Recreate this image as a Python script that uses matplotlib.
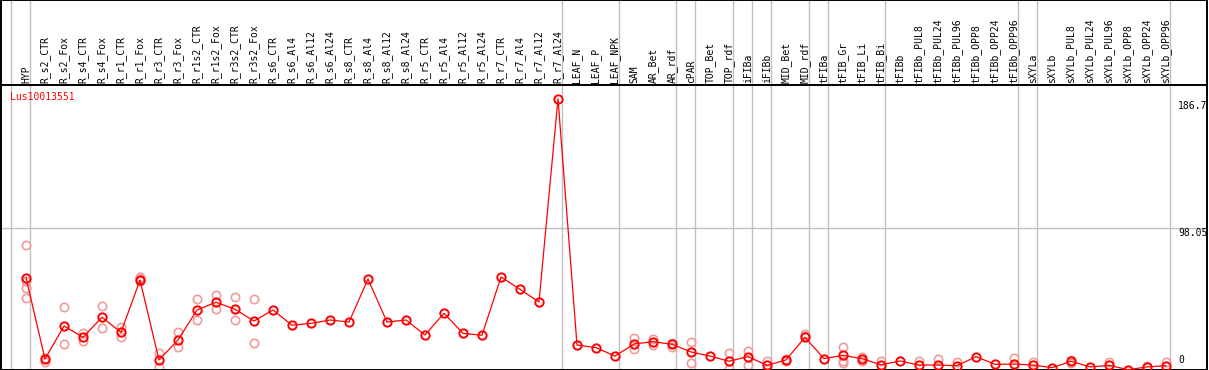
import numpy as np
import matplotlib.pyplot as plt

# sample names (header labels)
samples = ["HYP", "R_s2_CTR", "R_s2_Fox", "R_s4_CTR", "R_s4_Fox", "R_r1_CTR",
           "R_r1_Fox", "R_r3_CTR", "R_r3_Fox", "R_r1s2_CTR", "R_r1s2_Fox",
           "R_r3s2_CTR", "R_r3s2_Fox", "R_s6_CTR", "R_s6_Al4", "R_s6_Al12",
           "R_s6_Al24", "R_s8_CTR", "R_s8_Al4", "R_s8_Al12", "R_s8_Al24",
           "R_r5_CTR", "R_r5_Al4", "R_r5_Al12", "R_r5_Al24", "R_r7_CTR",
           "R_r7_Al4", "R_r7_Al12", "R_r7_Al24", "LEAF_N", "LEAF_P", "LEAF_NPK",
           "SAM", "AR_Bet", "AR_rdf", "cPAR", "TOP_Bet", "TOP_rdf", "iFIBa",
           "iFIBb", "MID_Bet", "MID_rdf", "tFIBa", "tFIB_Gr", "tFIB_Li",
           "tFIB_Bi", "tFIBb", "tFIBb_PUL8", "tFIBb_PUL24", "tFIBb_PUL96",
           "tFIBb_OPP8", "tFIBb_OPP24", "tFIBb_OPP96", "sXYLa", "sXYLb",
           "sXYLb_PUL8", "sXYLb_PUL24", "sXYLb_PUL96", "sXYLb_OPP8",
           "sXYLb_OPP24", "sXYLb_OPP96"]

# mean expression per sample
means = [63.5, 7.6, 30.3, 22.5, 36.3, 25.9, 61.9, 6.9, 20.6, 41.3, 46.6, 41.8,
         33.7, 41.3, 30.8, 32.1, 34.4, 33.0, 62.6, 33.0, 34.4, 24.1, 39.0, 25.2,
         23.9, 64.0, 55.5, 46.8, 186.7, 17.2, 15.4, 9.6, 17.9, 19.5, 17.7, 12.4,
         9.6, 6.0, 9.2, 3.2, 6.9, 22.5, 7.8, 10.1, 7.8, 3.6, 6.2, 3.4, 3.4, 3.0,
         9.2, 3.9, 4.1, 3.4, 1.6, 6.0, 2.1, 3.2, 0.2, 2.1, 3.0]

# individual replicates (only those visible apart from the mean)
replicates = [[86.0, 61.2, 56.2, 49.3], [8.5, 5.7], [43.1, 17.7], [25.2, 20.2],
              [44.0, 28.7], [29.8, 22.9], [64.2, 62.8, 61.0], [11.9, 2.3],
              [25.9, 15.6], [48.9, 34.2], [51.6, 41.8], [50.0, 34.4],
              [48.9, 18.4], [], [], [], [], [], [], [], [], [], [], [], [],
              [], [], [], [], [], [], [], [21.8, 14.2], [21.5, 17.2],
              [18.8, 16.1], [19.3, 5.0], [], [11.5, 0.7], [13.3, 3.6],
              [6.4, 0.7], [7.5, 6.2], [24.6, 23.4], [], [15.8, 6.4, 5.0],
              [8.9, 6.4], [6.0], [], [6.2], [7.8], [5.7], [], [], [8.0], [5.7],
              [], [7.0, 4.8], [], [5.7], [], [3.0], [5.3]]

# last sample index of each tissue group
group_ends = [-1, 0, 28, 31, 34, 35, 37, 38, 39, 41, 42, 45, 52, 53, 60]

gene = "Lus10013551"
ymax = 196.1
ticks = [186.7, 98.05, 0]

W, H = 1209, 370
fig = plt.figure(figsize=(W / 100, H / 100), dpi=100)
mono = "DejaVu Sans Mono"

x = np.arange(len(samples))
x0 = (1 - 26) / 19
x1 = (1207 - 26) / 19

head = fig.add_axes([1 / W, 285 / H, 1206 / W, 85 / H])
ax = fig.add_axes([1 / W, 0, 1206 / W, 285 / H])

for a in (head, ax):
    a.set_xlim(x0, x1)
    a.set_xticks([])
    a.set_yticks([])
    for s in a.spines.values():
        s.set_linewidth(1.4)
        s.set_color("black")
    for g in group_ends:
        a.axvline(g + 4 / 19, color="#c0c0c0", lw=1.0, zorder=0)

head.set_ylim(0, 1)
for i, name in enumerate(samples):
    head.text(i, 2 / 85, name, rotation=90, ha="center", va="bottom",
              family=mono, fontsize=7)

ax.set_ylim(0, ymax)
ax.axhline(98.05, color="#c0c0c0", lw=1.0, zorder=0)

# replicates
for i, reps in enumerate(replicates):
    if reps:
        ax.plot([i] * len(reps), reps, "o", ms=6, mfc="none", mec="#f09a9a",
                mew=1.2, zorder=2)

ax.plot(x, means, "-", color="red", lw=0.9, zorder=3)
ax.plot(x, means, "o", ms=6, mfc="none", mec="red", mew=1.4, zorder=4)

# value labels on the right
tx = (1178 - 26) / 19
ax.annotate("186.7", (tx, 186.7), xytext=(0, -2), textcoords="offset points",
            va="top", ha="left", family=mono, fontsize=7)
ax.annotate("98.05", (tx, 98.05), xytext=(0, -0.5), textcoords="offset points",
            va="top", ha="left", family=mono, fontsize=7)
ax.annotate("0", (tx, 0), xytext=(0, 3.5), textcoords="offset points",
            va="bottom", ha="left", family=mono, fontsize=7)

fig.text(10 / W, 1 - 97 / H, gene, color="red", family=mono, fontsize=7,
         ha="left", va="center")

fig.savefig("out.png", dpi=100)
